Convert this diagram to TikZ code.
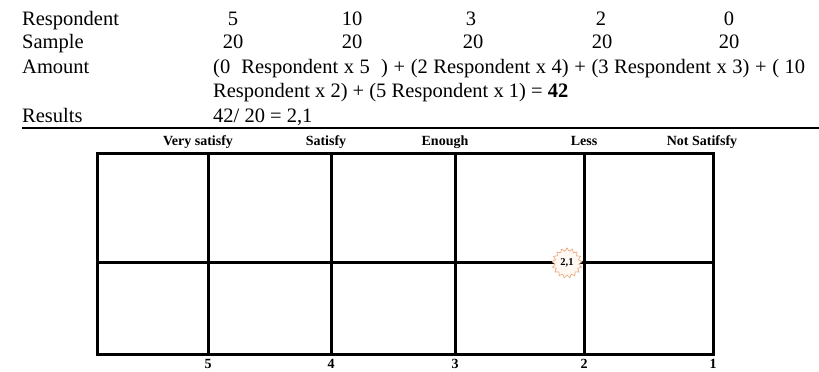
\documentclass[tikz,border=0pt]{standalone}
\usepackage{fontspec}
\setmainfont{Liberation Serif}
\usetikzlibrary{shapes.symbols}
\definecolor{stampline}{HTML}{E9A071}
\definecolor{stampfill}{HTML}{FFF8F3}
\begin{document}
\begin{tikzpicture}[x=1pt,y=-1pt,
  rowtxt/.style={anchor=base west,inner sep=0pt,font=\fontsize{20.5}{24}\selectfont},
  numtxt/.style={anchor=base,inner sep=0pt,font=\fontsize{20.5}{24}\selectfont},
  headtxt/.style={anchor=base,inner sep=0pt,font=\fontsize{14}{16}\selectfont\bfseries},
  gridline/.style={line width=3pt,line cap=rect},
  stamp/.style={starburst,random starburst=0,starburst points=17,starburst point height=3pt,
    minimum size=30pt,inner sep=0pt,draw=stampline,fill=stampfill,line width=0.6pt,
    font=\fontsize{10.5}{12}\selectfont\bfseries}]
\useasboundingbox (0,0) rectangle (819,372);
% text table
\node[rowtxt] (r1) at (22,25) {Respondent};
\node[rowtxt] (r2) at (22,48) {Sample};
\node[rowtxt] (r3) at (22,73) {Amount};
\node[rowtxt] (r4) at (22,122) {Results};
\foreach \x/\v [count=\i] in {233/5,352/10,471/3,601/2,729/0}
  \node[numtxt] (n\i) at (\x,25) {\v};
\foreach \x [count=\i] in {233,352,473,602,729}
  \node[numtxt] (s\i) at (\x,48) {20};
\node[rowtxt] (a1) at (213,73) {\makebox[592pt][s]{(0 \ Respondent x 5 \ ) + (2 Respondent x 4) + (3 Respondent x 3) + ( 10}};
\node[rowtxt] (a2) at (213,97) {Respondent x 2) + (5 Respondent x 1) = \textbf{42}};
\node[rowtxt] (res) at (213,122) {42/ 20 = 2,1};
% rule
\coordinate (l0) at (22,128);
\coordinate (l1) at (97,128);
\coordinate (l2) at (747,128);
\coordinate (l3) at (819,128);
\draw[line width=1.3pt] (l1) -- (l2);
\draw[line width=2pt] (l0) -- (l1);
\draw[line width=2pt] (l2) -- (l3);
% grid
\draw[gridline] (97,153) rectangle (713,354);
\draw[gridline] (97,262) -- (713,262);
\foreach \x in {208,331,455,584}
  \draw[gridline] (\x,153) -- (\x,354);
% headings
\node[headtxt] (h1) at (198,145) {Very satisfy};
\node[headtxt] (h2) at (326,145) {Satisfy};
\node[headtxt] (h3) at (445,145) {Enough};
\node[headtxt] (h4) at (584,145) {Less};
\node[headtxt] (h5) at (702,145) {Not Satifsfy};
% scale
\foreach \x/\v [count=\i] in {208/5,331/4,455/3,584/2,713/1}
  \node[headtxt] (b\i) at (\x,368) {\v};
% result stamp
\node[stamp] (mark) at (567,263) {2,1};
\end{tikzpicture}
\end{document}
